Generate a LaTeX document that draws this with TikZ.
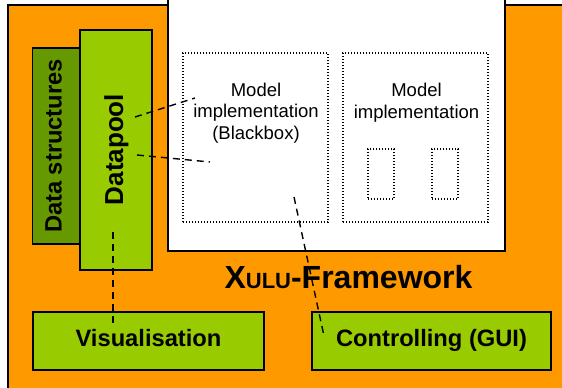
\documentclass[tikz,border=0pt]{standalone}
\usepackage{fontspec}
\setmainfont{Liberation Sans}
\definecolor{frameorange}{HTML}{FF9900}
\definecolor{lightgreen}{HTML}{99CC00}
\definecolor{darkgreen}{HTML}{669900}
\begin{document}
\begin{tikzpicture}[x=1pt,y=-1pt,
  solidbox/.style={draw=black, line width=1.4pt, inner sep=0pt, outer sep=0pt},
  dotbox/.style={draw=black, line width=1.3pt, dash pattern=on 1.3pt off 1.7pt, inner sep=0pt, outer sep=0pt},
  boldlabel/.style={font=\bfseries\fontsize{23.7}{28}\selectfont, inner sep=0pt},
  modeltext/.style={font=\fontsize{18.5}{21.7}\selectfont, align=center, inner sep=0pt},
  link/.style={draw=black, line width=1.4pt, dash pattern=on 7pt off 5pt}]
\useasboundingbox (0,0) rectangle (562,388);
% frame background
\path[solidbox, fill=frameorange] (8,5) rectangle (575,400);
\path[solidbox, fill=white] (168,-5) rectangle (505,251);
% datapool and data structures
\node[solidbox, fill=darkgreen, minimum width=47.3pt, minimum height=196pt] (ds) at (56.35,146) {};
\node[solidbox, fill=lightgreen, minimum width=72pt, minimum height=240pt] (dp) at (116,150) {};
\node[boldlabel, rotate=90] (dstext) at (53.5,146) {Data structures};
\node[boldlabel, font=\bfseries\fontsize{26}{30}\selectfont, rotate=90] (dptext) at (116.3,149.5) {Datapool};
% model implementations
\node[dotbox, minimum width=145pt, minimum height=169pt] (m1) at (255.5,137.5) {};
\node[dotbox, minimum width=145pt, minimum height=169pt] (m2) at (415.5,137.5) {};
\node[dotbox, minimum width=26pt, minimum height=50pt] (s1) at (381,174) {};
\node[dotbox, minimum width=26pt, minimum height=50pt] (s2) at (445,174) {};
\node[modeltext] (m1text) at (256,113) {Model\\implementation\\(Blackbox)};
\node[modeltext] (m2text) at (416.5,102.5) {Model\\implementation};
% framework title
\node[anchor=base, inner sep=0pt, font=\bfseries] (title) at (348.5,288)
  {\fontsize{32}{36}\selectfont X\fontsize{22}{26}\selectfont ULU\fontsize{32}{36}\selectfont -Framework};
% bottom boxes
\node[solidbox, fill=lightgreen, minimum width=231pt, minimum height=58pt,
  font=\bfseries\fontsize{23.7}{28}\selectfont, text height=17.5pt, text depth=6pt] (vis) at (148.5,341) {Visualisation};
\node[solidbox, fill=lightgreen, minimum width=239pt, minimum height=58pt,
  font=\bfseries\fontsize{23.7}{28}\selectfont, text height=17.5pt, text depth=6pt] (ctrl) at (431.5,341) {Controlling (GUI)};
% connector ends
\coordinate (dpA) at (135,117);
\coordinate (m1A) at (195,98);
\coordinate (dpB) at (137,155);
\coordinate (m1B) at (210,162);
\coordinate (m1C) at (294,197);
\coordinate (ctrlA) at (324,336);
\coordinate (dpC) at (113,232);
\coordinate (visA) at (113,323);
\draw[link] (dpA) -- (m1A);
\draw[link] (dpB) -- (m1B);
\draw[link] (m1C) -- (ctrlA);
\draw[link] (dpC) -- (visA);
\end{tikzpicture}
\end{document}
